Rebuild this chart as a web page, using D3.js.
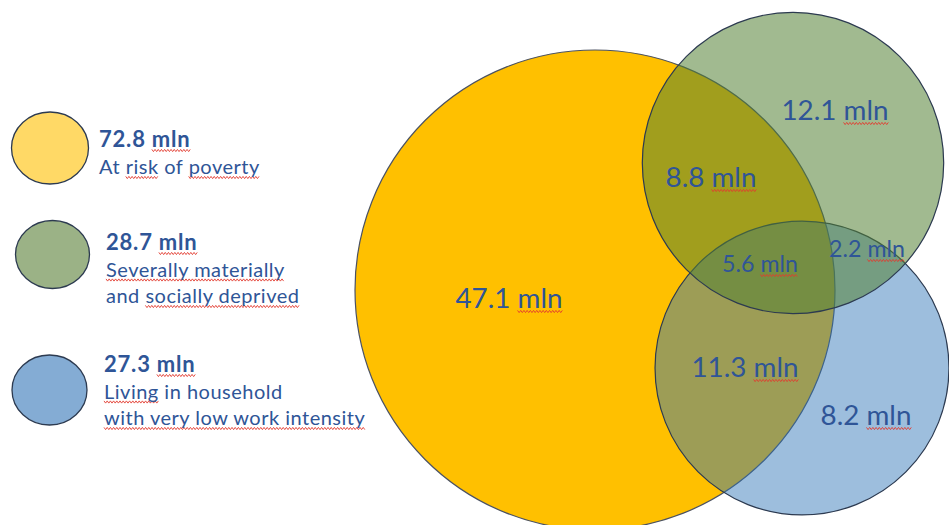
<!DOCTYPE html>
<html>
<head>
<meta charset="utf-8">
<script src="https://cdn.jsdelivr.net/npm/d3@7"></script>
<style>
  html, body { margin: 0; padding: 0; background: #fff; }
  svg { display: block; }
  text { font-family: Lato, "Open Sans", sans-serif; fill: #2F5597; }
</style>
</head>
<body>
<svg id="chart" width="949" height="525"></svg>
<script>
// ---- data ----------------------------------------------------------
const setNames = ["At risk of poverty", "Severally materially and socially deprived", "Living in household with very low work intensity"];
const setTotals = [72.8, 28.7, 27.3];
const legendLines = [
  ["At risk of poverty"],
  ["Severally materially", "and socially deprived"],
  ["Living in household", "with very low work intensity"]
];
// exclusive regions of the diagram, in millions
const regionNames = ["poverty only", "deprived only", "poverty + deprived", "all three", "deprived + low work", "poverty + low work", "low work only"];
const regionValues = [47.1, 12.1, 8.8, 5.6, 2.2, 11.3, 8.2];
const unit = "mln";

// ---- layout & style ------------------------------------------------
const W = 949, H = 525;
const circleCenters = [[595, 290], [793, 163], [802, 368]];
const circleFill = ["#FFC000", "#548235", "#2E75B6"];
const circleOpacity = [1, 0.55, 0.47];
const circleStroke = ["#4b5262", "#2c3a50", "#2c3a50"];
const drawOrder = [0, 2, 1];
const regionPos = [[509, 308], [835, 120], [711, 187], [760, 272], [867, 257], [745, 377], [866, 425]];
const regionSize = [27.8, 27.8, 27.8, 23.2, 23.2, 27.8, 27.8];

const legendSwatch = [
  { cx: 50, cy: 148, rx: 38.5, ry: 36, fill: "#FFD966" },
  { cx: 52.5, cy: 254.5, rx: 37, ry: 34, fill: "#9BB286" },
  { cx: 49.5, cy: 390, rx: 37.5, ry: 35, fill: "#84ACD4" }
];
const legendText = [{ x: 99, y: 147 }, { x: 106, y: 250 }, { x: 104, y: 372 }];
const legendLineGap = 26.5;

const flaggedWords = new Set(["mln", "risk", "poverty", "Severally", "materially", "socially", "deprived", "Living", "with", "very", "low", "work", "intensity"]);

const svg = d3.select("#chart");

// area-proportional radius
const r = d3.scaleSqrt().domain([0, d3.max(setTotals)]).range([0, 240]);

// ---- Venn circles --------------------------------------------------
svg.append("g").selectAll("circle")
  .data(drawOrder)
  .join("circle")
  .attr("cx", i => circleCenters[i][0])
  .attr("cy", i => circleCenters[i][1])
  .attr("r", i => r(setTotals[i]))
  .attr("fill", i => circleFill[i])
  .attr("fill-opacity", i => circleOpacity[i])
  .attr("stroke", i => circleStroke[i])
  .attr("stroke-width", 1.2);

// wavy proofing underline under flagged words
const squiggles = svg.append("g").attr("class", "squiggles");
function squiggle(x0, x1, y) {
  const pts = [];
  let k = 0;
  for (let x = x0; x <= x1; x += 1.6, k++) pts.push([x, y + (k % 2 ? 1.1 : -1.1)]);
  squiggles.append("path")
    .attr("d", d3.line()(pts))
    .attr("fill", "none")
    .attr("stroke", "#E23B30")
    .attr("stroke-width", 0.9);
}
function underlineFlagged(textSel) {
  const node = textSel.node();
  const str = node.textContent;
  const words = [];
  const re = /\S+/g;
  let m;
  while ((m = re.exec(str)) !== null) words.push({ w: m[0], s: m.index, e: m.index + m[0].length - 1 });
  const y = +textSel.attr("y") + 3.5;
  let run = null;
  const runs = [];
  words.forEach(wd => {
    if (flaggedWords.has(wd.w)) {
      if (run) run.e = wd.e; else run = { s: wd.s, e: wd.e };
    } else if (run) { runs.push(run); run = null; }
  });
  if (run) runs.push(run);
  runs.forEach(rn => {
    const x0 = node.getStartPositionOfChar(rn.s).x;
    const x1 = node.getEndPositionOfChar(rn.e).x;
    squiggle(x0, x1, y);
  });
}

// ---- region labels -------------------------------------------------
regionValues.forEach((v, i) => {
  const t = svg.append("text")
    .attr("x", regionPos[i][0])
    .attr("y", regionPos[i][1])
    .attr("text-anchor", "middle")
    .attr("font-size", regionSize[i])
    .text(`${d3.format(".1f")(v)} ${unit}`);
  underlineFlagged(t);
});

// ---- legend --------------------------------------------------------
const lg = svg.append("g");
legendSwatch.forEach((s, i) => {
  lg.append("ellipse")
    .attr("cx", s.cx).attr("cy", s.cy)
    .attr("rx", s.rx).attr("ry", s.ry)
    .attr("fill", s.fill)
    .attr("stroke", "#2c3a50")
    .attr("stroke-width", 1.3);

  const head = lg.append("text")
    .attr("x", legendText[i].x)
    .attr("y", legendText[i].y)
    .attr("font-size", 22)
    .attr("font-weight", 700)
    .attr("letter-spacing", 0.8)
    .text(`${d3.format(".1f")(setTotals[i])} ${unit}`);
  underlineFlagged(head);

  legendLines[i].forEach((line, j) => {
    const t = lg.append("text")
      .attr("x", legendText[i].x)
      .attr("y", legendText[i].y + legendLineGap * (j + 1) + (i === 0 ? 0.5 : 0))
      .attr("font-size", 20)
      .attr("letter-spacing", 0.5)
      .text(line);
    underlineFlagged(t);
  });
});
</script>
</body>
</html>
